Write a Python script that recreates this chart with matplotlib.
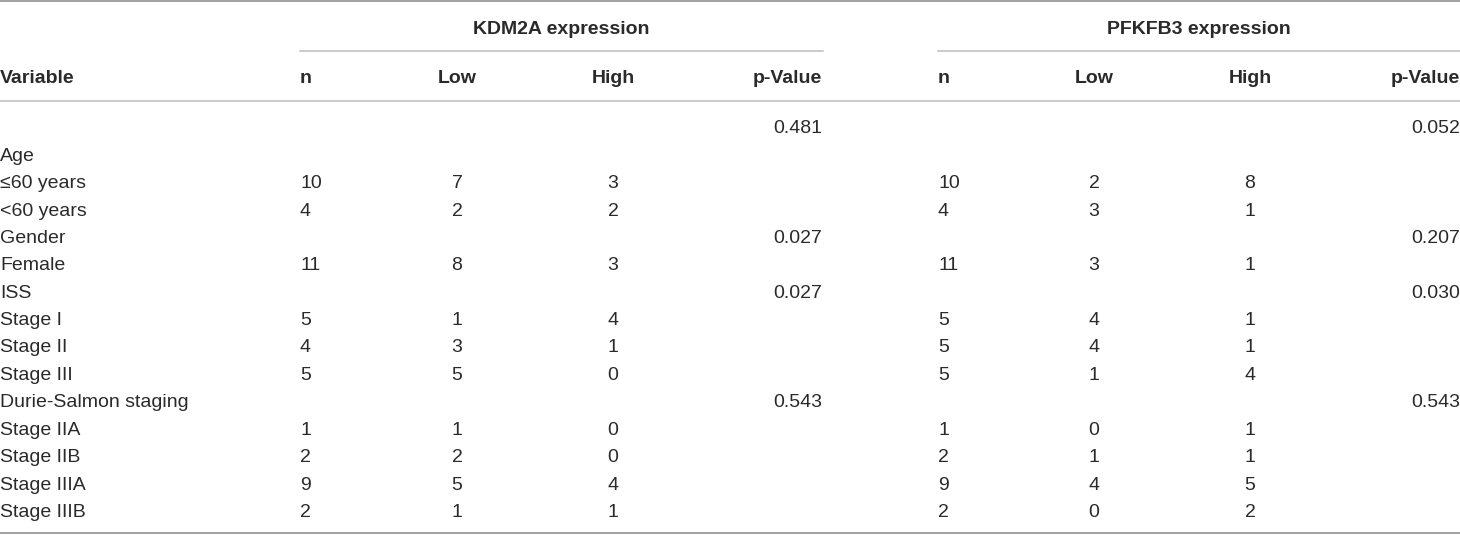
import matplotlib
matplotlib.use('Agg')
import matplotlib.pyplot as plt

plt.rcParams['font.family'] = ['Liberation Sans', 'DejaVu Sans']

# table content
variables = ['', 'Age', '≤60 years', '<60 years', 'Gender', 'Female', 'ISS',
             'Stage I', 'Stage II', 'Stage III', 'Durie-Salmon staging',
             'Stage IIA', 'Stage IIB', 'Stage IIIA', 'Stage IIIB']
kdm_n    = ['', '', '10', '4', '', '11', '', '5', '4', '5', '', '1', '2', '9', '2']
kdm_low  = ['', '', '7', '2', '', '8', '', '1', '3', '5', '', '1', '2', '5', '1']
kdm_high = ['', '', '3', '2', '', '3', '', '4', '1', '0', '', '0', '0', '4', '1']
kdm_p    = ['0.481', '', '', '', '0.027', '', '0.027', '', '', '', '0.543', '', '', '', '']
pf_n     = ['', '', '10', '4', '', '11', '', '5', '5', '5', '', '1', '2', '9', '2']
pf_low   = ['', '', '2', '3', '', '3', '', '4', '4', '1', '', '0', '1', '4', '0']
pf_high  = ['', '', '8', '1', '', '1', '', '1', '1', '4', '', '1', '1', '5', '2']
pf_p     = ['0.052', '', '', '', '0.207', '', '0.030', '', '', '', '0.543', '', '', '', '']

groups = ['KDM2A expression', 'PFKFB3 expression']
sub_headers = ['n', 'Low', 'High', 'p-Value']

W, H = 1460, 535
fig = plt.figure(figsize=(W / 100, H / 100), dpi=100)
ax = fig.add_axes([0, 0, 1, 1])
ax.set_xlim(0, W)
ax.set_ylim(H, 0)
ax.axis('off')

txt = '#2a2a2a'
fs = 14

# column layout: (x, ha)
group_cols = [
    [(300, 'left'), (457, 'center'), (613, 'center'), (822, 'right')],
    [(938, 'left'), (1094, 'center'), (1250, 'center'), (1460, 'right')],
]
group_span = [(300, 823), (938, 1460)]

# rules
ax.plot([0, W], [1, 1], color='#999999', lw=1.3)
for x0, x1 in group_span:
    ax.plot([x0, x1], [50.5, 50.5], color='#bdbdbd', lw=1.1)
ax.plot([0, W], [100.5, 100.5], color='#bdbdbd', lw=1.1)
ax.plot([0, W], [532.5, 532.5], color='#999999', lw=1.3)

# headers
for g, (x0, x1) in zip(groups, group_span):
    ax.text((x0 + x1) / 2, 33.5, g, ha='center', va='baseline', fontsize=fs,
            fontweight='bold', color=txt)
ax.text(0, 83.3, 'Variable', ha='left', va='baseline', fontsize=fs,
        fontweight='bold', color=txt)
for cols in group_cols:
    for (x, ha), lab in zip(cols, sub_headers):
        ax.text(x, 83.3, lab, ha=ha, va='baseline', fontsize=fs,
                fontweight='bold', color=txt)

# body
row0, step = 133.3, 27.4
data = [[kdm_n, kdm_low, kdm_high, kdm_p], [pf_n, pf_low, pf_high, pf_p]]
for i, v in enumerate(variables):
    y = row0 + i * step
    ax.text(0, y, v, ha='left', va='baseline', fontsize=fs, color=txt)
    for cols, series in zip(group_cols, data):
        for (x, ha), s in zip(cols, series):
            ax.text(x, y, s[i], ha=ha, va='baseline', fontsize=fs, color=txt)

fig.savefig('out.png', dpi=100)
